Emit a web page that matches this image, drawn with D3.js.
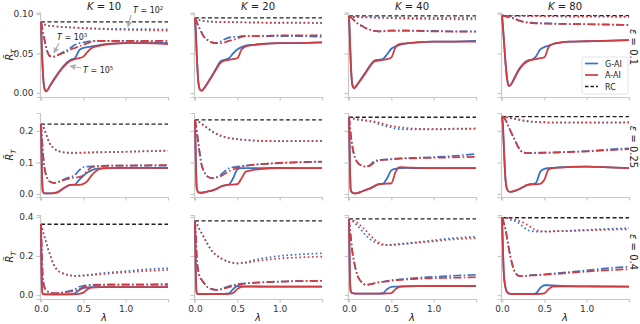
<!DOCTYPE html>
<html>
<head>
<meta charset="utf-8">
<script src="https://cdn.jsdelivr.net/npm/d3@7"></script>
<style>
body{margin:0;background:#fff;}
text{font-family:"DejaVu Sans",sans-serif;}
</style>
</head>
<body>
<svg id="chart" width="640" height="324"></svg>
<script>
// lambda grid shared by every curve
var lambdas = [0,0.01,0.02,0.04,0.06,0.08,0.1,0.15,0.2,0.25,0.3,0.35,0.4,0.45,0.5,0.55,0.6,0.7,0.8,1.0,1.2,1.5];
var ks = [10,20,40,80];
var epsilons = ["0.1","0.25","0.4"];
var rcValues = [[0.09,0.095,0.0975,0.098],[0.222,0.235,0.2435,0.2455],[0.3625,0.38,0.39,0.396]];
var yTicks = [[0,0.05,0.1],[0,0.1,0.2],[0,0.2,0.4]];
var xTicks = [0,0.5,1.0];

// g = G-AI, a = A-AI ; 2,3,5 = T=10^2,10^3,10^5
var e1K10 = {
  g2:[0.09,0.089,0.088,0.087,0.086,0.0855,0.085,0.0845,0.084,0.0836,0.0833,0.083,0.0828,0.0825,0.0822,0.082,0.0818,0.0815,0.0812,0.081,0.0808,0.0805],
  a2:[0.09,0.089,0.088,0.087,0.086,0.0855,0.085,0.0845,0.084,0.0835,0.0832,0.083,0.0826,0.0823,0.082,0.0817,0.0815,0.081,0.0805,0.08,0.0795,0.079],
  g3:[0.09,0.085,0.079,0.068,0.058,0.051,0.047,0.046,0.048,0.051,0.054,0.057,0.061,0.063,0.064,0.065,0.066,0.066,0.066,0.066,0.065,0.064],
  a3:[0.09,0.085,0.079,0.068,0.058,0.051,0.047,0.046,0.048,0.05,0.052,0.055,0.057,0.059,0.061,0.063,0.065,0.066,0.066,0.066,0.066,0.066],
  g5:[0.09,0.055,0.03,0.006,0.002,0.004,0.008,0.017,0.025,0.032,0.038,0.042,0.044,0.054,0.057,0.058,0.059,0.061,0.062,0.063,0.063,0.063],
  a5:[0.09,0.055,0.03,0.006,0.002,0.004,0.008,0.016,0.024,0.031,0.037,0.041,0.043,0.044,0.046,0.052,0.057,0.06,0.062,0.063,0.063,0.062]
};
var e1K20 = {
  g2:[0.095,0.0945,0.094,0.093,0.092,0.0915,0.091,0.0905,0.0903,0.09,0.09,0.09,0.0898,0.0897,0.0896,0.0895,0.0894,0.0893,0.0892,0.089,0.089,0.0888],
  a2:[0.095,0.0945,0.094,0.093,0.092,0.0915,0.091,0.0905,0.0902,0.09,0.0898,0.0897,0.0896,0.0895,0.0894,0.0893,0.0892,0.089,0.0889,0.0887,0.0886,0.0885],
  g3:[0.095,0.093,0.09,0.085,0.08,0.076,0.072,0.067,0.064,0.063,0.065,0.068,0.07,0.071,0.071,0.072,0.072,0.072,0.072,0.072,0.072,0.071],
  a3:[0.095,0.093,0.09,0.085,0.08,0.076,0.072,0.067,0.064,0.063,0.063,0.064,0.066,0.067,0.069,0.071,0.072,0.072,0.072,0.073,0.073,0.073],
  g5:[0.095,0.075,0.05,0.013,0.004,0.003,0.005,0.013,0.022,0.031,0.04,0.042,0.044,0.05,0.055,0.058,0.06,0.061,0.062,0.063,0.063,0.064],
  a5:[0.095,0.075,0.05,0.013,0.004,0.003,0.005,0.013,0.021,0.03,0.038,0.041,0.042,0.043,0.044,0.055,0.059,0.061,0.062,0.063,0.063,0.064]
};
var e1K40 = {
  g2:[0.0975,0.097,0.0968,0.0965,0.0963,0.0962,0.096,0.096,0.096,0.096,0.0958,0.0957,0.0956,0.0955,0.0955,0.0954,0.0953,0.0952,0.0951,0.095,0.095,0.095],
  a2:[0.0975,0.097,0.0968,0.0965,0.0963,0.0962,0.096,0.0958,0.0956,0.0955,0.0953,0.0951,0.095,0.0948,0.0946,0.0945,0.0943,0.094,0.0938,0.0935,0.0933,0.093],
  g3:[0.0975,0.097,0.096,0.094,0.092,0.09,0.088,0.085,0.082,0.08,0.0785,0.078,0.0785,0.079,0.079,0.079,0.079,0.079,0.0788,0.0785,0.078,0.078],
  a3:[0.0975,0.097,0.096,0.094,0.092,0.09,0.088,0.085,0.082,0.08,0.0785,0.078,0.078,0.0785,0.079,0.079,0.079,0.0788,0.0785,0.078,0.0778,0.0775],
  g5:[0.0975,0.07,0.04,0.01,0.006,0.008,0.011,0.019,0.027,0.035,0.041,0.042,0.043,0.049,0.056,0.059,0.061,0.063,0.064,0.065,0.065,0.066],
  a5:[0.0975,0.07,0.04,0.01,0.006,0.008,0.011,0.018,0.026,0.034,0.04,0.041,0.042,0.043,0.045,0.058,0.062,0.063,0.064,0.065,0.065,0.065]
};
var e1K80 = {
  g2:[0.098,0.098,0.0978,0.0977,0.0976,0.0975,0.0975,0.0975,0.0975,0.0974,0.0974,0.0974,0.0973,0.0973,0.0972,0.0972,0.0971,0.097,0.097,0.097,0.0968,0.0967],
  a2:[0.098,0.098,0.0978,0.0977,0.0976,0.0975,0.0974,0.0974,0.0973,0.0973,0.0972,0.0972,0.0971,0.0971,0.097,0.097,0.0969,0.0968,0.0967,0.0966,0.0965,0.0964],
  g3:[0.098,0.0978,0.0975,0.097,0.0965,0.096,0.0955,0.094,0.092,0.0905,0.0895,0.089,0.0885,0.088,0.088,0.088,0.0878,0.0875,0.0873,0.087,0.0868,0.0862],
  a3:[0.098,0.0978,0.0975,0.097,0.0965,0.096,0.0955,0.094,0.0915,0.09,0.089,0.0885,0.088,0.088,0.0878,0.0878,0.0876,0.0874,0.0872,0.087,0.0866,0.086],
  g5:[0.098,0.085,0.07,0.04,0.018,0.009,0.01,0.02,0.03,0.037,0.041,0.042,0.046,0.055,0.058,0.06,0.062,0.064,0.065,0.0655,0.066,0.067],
  a5:[0.098,0.085,0.07,0.04,0.018,0.009,0.01,0.019,0.029,0.036,0.04,0.042,0.043,0.044,0.045,0.058,0.062,0.064,0.065,0.0655,0.066,0.067]
};
var e2K10 = {
  g2:[0.222,0.22,0.216,0.205,0.19,0.175,0.162,0.145,0.137,0.133,0.132,0.131,0.131,0.131,0.131,0.132,0.132,0.133,0.133,0.134,0.136,0.138],
  a2:[0.222,0.22,0.216,0.205,0.19,0.175,0.162,0.145,0.137,0.133,0.131,0.13,0.13,0.13,0.131,0.131,0.132,0.132,0.133,0.134,0.135,0.137],
  g3:[0.222,0.18,0.14,0.085,0.06,0.047,0.04,0.035,0.038,0.044,0.05,0.054,0.06,0.075,0.085,0.087,0.088,0.089,0.09,0.09,0.09,0.09],
  a3:[0.222,0.18,0.14,0.085,0.06,0.047,0.04,0.035,0.037,0.042,0.047,0.05,0.052,0.054,0.06,0.075,0.085,0.088,0.09,0.09,0.091,0.092],
  g5:[0.222,0.08,0.01,0.002,0.002,0.002,0.002,0.003,0.006,0.015,0.024,0.029,0.03,0.045,0.058,0.068,0.076,0.081,0.082,0.083,0.083,0.082],
  a5:[0.222,0.08,0.01,0.002,0.002,0.002,0.002,0.003,0.006,0.015,0.024,0.029,0.029,0.029,0.032,0.042,0.06,0.08,0.082,0.083,0.083,0.083]
};
var e2K20 = {
  g2:[0.235,0.234,0.233,0.23,0.226,0.222,0.218,0.208,0.198,0.19,0.184,0.18,0.177,0.175,0.174,0.172,0.171,0.169,0.168,0.168,0.168,0.169],
  a2:[0.235,0.234,0.233,0.23,0.227,0.223,0.219,0.209,0.2,0.192,0.186,0.181,0.178,0.176,0.174,0.173,0.172,0.17,0.169,0.168,0.168,0.168],
  g3:[0.235,0.22,0.2,0.16,0.12,0.09,0.075,0.055,0.05,0.053,0.06,0.072,0.082,0.085,0.087,0.089,0.09,0.093,0.095,0.098,0.1,0.102],
  a3:[0.235,0.22,0.2,0.16,0.12,0.09,0.075,0.055,0.05,0.052,0.056,0.064,0.072,0.078,0.083,0.087,0.089,0.093,0.095,0.099,0.101,0.103],
  g5:[0.235,0.1,0.02,0.005,0.004,0.004,0.005,0.008,0.011,0.016,0.023,0.027,0.03,0.05,0.078,0.082,0.082,0.082,0.082,0.083,0.082,0.082],
  a5:[0.235,0.1,0.02,0.005,0.004,0.004,0.005,0.008,0.011,0.016,0.023,0.027,0.029,0.03,0.031,0.05,0.071,0.077,0.08,0.082,0.082,0.082]
};
var e2K40 = {
  g2:[0.2435,0.243,0.242,0.24,0.238,0.237,0.236,0.234,0.232,0.23,0.227,0.222,0.218,0.214,0.211,0.208,0.206,0.205,0.205,0.205,0.206,0.207],
  a2:[0.2435,0.243,0.242,0.24,0.239,0.238,0.237,0.236,0.234,0.232,0.23,0.227,0.223,0.219,0.216,0.214,0.212,0.209,0.207,0.206,0.207,0.208],
  g3:[0.2435,0.22,0.19,0.15,0.124,0.11,0.1,0.09,0.087,0.092,0.105,0.108,0.109,0.11,0.111,0.112,0.113,0.114,0.115,0.117,0.12,0.127],
  a3:[0.2435,0.22,0.19,0.15,0.124,0.11,0.1,0.09,0.087,0.09,0.1,0.106,0.108,0.109,0.11,0.111,0.112,0.113,0.114,0.115,0.116,0.118],
  g5:[0.2435,0.1,0.013,0.004,0.002,0.002,0.003,0.008,0.013,0.018,0.025,0.031,0.033,0.05,0.075,0.08,0.082,0.083,0.082,0.082,0.082,0.082],
  a5:[0.2435,0.1,0.013,0.004,0.002,0.002,0.003,0.008,0.013,0.018,0.025,0.031,0.032,0.033,0.034,0.07,0.085,0.084,0.083,0.082,0.082,0.082]
};
var e2K80 = {
  g2:[0.2455,0.2455,0.245,0.244,0.243,0.242,0.241,0.238,0.235,0.232,0.23,0.229,0.228,0.227,0.227,0.226,0.226,0.226,0.226,0.226,0.226,0.226],
  a2:[0.2455,0.2455,0.245,0.244,0.243,0.242,0.241,0.239,0.237,0.234,0.232,0.23,0.229,0.228,0.228,0.227,0.227,0.227,0.227,0.227,0.227,0.228],
  g3:[0.2455,0.245,0.243,0.235,0.225,0.212,0.2,0.172,0.145,0.132,0.13,0.13,0.131,0.131,0.131,0.131,0.132,0.133,0.134,0.136,0.14,0.145],
  a3:[0.2455,0.245,0.243,0.235,0.225,0.212,0.2,0.172,0.145,0.132,0.13,0.13,0.13,0.13,0.131,0.131,0.131,0.132,0.133,0.135,0.138,0.142],
  g5:[0.2455,0.22,0.16,0.05,0.015,0.008,0.007,0.01,0.015,0.022,0.029,0.031,0.035,0.07,0.08,0.082,0.083,0.085,0.086,0.087,0.085,0.082],
  a5:[0.2455,0.22,0.16,0.05,0.015,0.008,0.007,0.01,0.015,0.022,0.029,0.031,0.031,0.032,0.045,0.078,0.082,0.084,0.086,0.087,0.085,0.082]
};
var e3K10 = {
  g2:[0.3625,0.35,0.33,0.3,0.27,0.24,0.215,0.155,0.125,0.112,0.105,0.1,0.098,0.099,0.101,0.103,0.105,0.111,0.115,0.122,0.13,0.137],
  a2:[0.3625,0.35,0.33,0.3,0.27,0.24,0.215,0.155,0.125,0.112,0.105,0.1,0.098,0.098,0.099,0.1,0.102,0.106,0.11,0.116,0.122,0.128],
  g3:[0.3625,0.2,0.1,0.04,0.026,0.018,0.014,0.009,0.01,0.013,0.017,0.022,0.03,0.042,0.047,0.05,0.052,0.053,0.054,0.055,0.055,0.056],
  a3:[0.3625,0.2,0.1,0.04,0.026,0.018,0.014,0.009,0.01,0.012,0.015,0.018,0.022,0.03,0.04,0.047,0.05,0.052,0.052,0.052,0.052,0.052],
  g5:[0.3625,0.05,0.006,0.003,0.003,0.003,0.003,0.003,0.003,0.003,0.003,0.004,0.008,0.025,0.035,0.038,0.04,0.04,0.04,0.04,0.04,0.04],
  a5:[0.3625,0.05,0.006,0.003,0.003,0.003,0.003,0.003,0.003,0.003,0.003,0.003,0.004,0.006,0.012,0.03,0.038,0.04,0.04,0.04,0.04,0.04]
};
var e3K20 = {
  g2:[0.38,0.375,0.365,0.35,0.33,0.316,0.3,0.26,0.225,0.205,0.19,0.178,0.17,0.165,0.162,0.165,0.168,0.18,0.188,0.2,0.207,0.214],
  a2:[0.38,0.375,0.365,0.35,0.33,0.316,0.3,0.26,0.225,0.205,0.19,0.178,0.17,0.165,0.162,0.163,0.165,0.172,0.178,0.187,0.192,0.197],
  g3:[0.38,0.3,0.2,0.12,0.09,0.077,0.065,0.04,0.03,0.026,0.03,0.038,0.045,0.051,0.055,0.058,0.06,0.063,0.066,0.069,0.071,0.073],
  a3:[0.38,0.3,0.2,0.12,0.09,0.077,0.065,0.04,0.03,0.026,0.028,0.034,0.04,0.046,0.052,0.056,0.059,0.062,0.065,0.068,0.071,0.073],
  g5:[0.38,0.1,0.01,0.005,0.005,0.005,0.005,0.005,0.005,0.005,0.005,0.006,0.008,0.03,0.046,0.045,0.044,0.044,0.043,0.043,0.043,0.043],
  a5:[0.38,0.1,0.01,0.005,0.005,0.005,0.005,0.005,0.005,0.005,0.005,0.005,0.006,0.01,0.03,0.042,0.043,0.043,0.043,0.043,0.043,0.043]
};
var e3K40 = {
  g2:[0.39,0.39,0.388,0.38,0.372,0.365,0.355,0.33,0.305,0.285,0.272,0.262,0.257,0.256,0.258,0.26,0.262,0.266,0.27,0.28,0.29,0.299],
  a2:[0.39,0.39,0.389,0.385,0.38,0.375,0.37,0.35,0.33,0.305,0.285,0.27,0.26,0.256,0.256,0.257,0.259,0.263,0.268,0.275,0.284,0.291],
  g3:[0.39,0.34,0.3,0.22,0.17,0.13,0.1,0.065,0.052,0.055,0.06,0.065,0.068,0.072,0.076,0.078,0.08,0.084,0.088,0.093,0.098,0.103],
  a3:[0.39,0.34,0.3,0.22,0.17,0.13,0.1,0.065,0.052,0.055,0.06,0.065,0.068,0.07,0.073,0.075,0.077,0.08,0.083,0.086,0.088,0.091],
  g5:[0.39,0.1,0.02,0.009,0.008,0.007,0.007,0.007,0.007,0.007,0.007,0.007,0.009,0.03,0.042,0.043,0.044,0.045,0.045,0.046,0.046,0.046],
  a5:[0.39,0.1,0.02,0.009,0.008,0.007,0.007,0.007,0.007,0.007,0.007,0.007,0.007,0.008,0.01,0.03,0.042,0.044,0.045,0.045,0.046,0.046]
};
var e3K80 = {
  g2:[0.396,0.396,0.396,0.395,0.393,0.39,0.386,0.38,0.368,0.35,0.333,0.327,0.325,0.325,0.326,0.326,0.327,0.328,0.33,0.334,0.338,0.342],
  a2:[0.396,0.396,0.396,0.396,0.395,0.394,0.393,0.388,0.38,0.372,0.36,0.345,0.333,0.328,0.325,0.325,0.326,0.327,0.328,0.331,0.334,0.337],
  g3:[0.396,0.39,0.37,0.34,0.29,0.24,0.195,0.12,0.098,0.097,0.1,0.102,0.103,0.104,0.106,0.108,0.11,0.114,0.118,0.126,0.135,0.145],
  a3:[0.396,0.39,0.37,0.34,0.29,0.24,0.195,0.12,0.098,0.097,0.099,0.1,0.101,0.102,0.104,0.105,0.107,0.11,0.114,0.12,0.126,0.132],
  g5:[0.396,0.25,0.12,0.04,0.015,0.008,0.006,0.005,0.005,0.005,0.005,0.005,0.008,0.035,0.05,0.05,0.049,0.047,0.045,0.044,0.044,0.043],
  a5:[0.396,0.25,0.12,0.04,0.015,0.008,0.006,0.005,0.005,0.005,0.005,0.005,0.005,0.006,0.008,0.03,0.043,0.044,0.044,0.044,0.043,0.043]
};
var panelData = [[e1K10,e1K20,e1K40,e1K80],[e2K10,e2K20,e2K40,e2K80],[e3K10,e3K20,e3K40,e3K80]];

var colLeft = [40,194,348,501],
    panelW = 128,
    rowTop = [12.7,113,215],
    rowBot = [97,197,299],
    yDomains = [[-0.00506,0.1016],[-0.0095,0.257],[-0.0205,0.41]],
    blue = "#3673c4",
    red = "#cf3c42",
    axisGrey = "#c8c8c8",
    textCol = "#333";

var styles = {
  "2": {dash: "1.6,2.6", width: 1.7, cap: "butt"},
  "3": {dash: "8,2.4,1.6,2.4", width: 1.7, cap: "butt"},
  "5": {dash: null, width: 1.8, cap: "butt"}
};

var svg = d3.select("#chart");

var defs = svg.append("defs");
defs.append("marker")
  .attr("id","arrow")
  .attr("viewBox","0 0 10 10")
  .attr("refX",9).attr("refY",5)
  .attr("markerWidth",5).attr("markerHeight",5)
  .attr("orient","auto")
  .append("path").attr("d","M0,0L10,5L0,10z").attr("fill","#b0b0b0");

function drawPanel(r, c) {
  var x = d3.scaleLinear().domain([-0.012,1.5]).range([colLeft[c], colLeft[c]+panelW]);
  var y = d3.scaleLinear().domain(yDomains[r]).range([rowBot[r], rowTop[r]]);
  var g = svg.append("g");

  // axes
  var xa = d3.axisBottom(x).tickValues(xTicks).tickSize(3.5).tickPadding(3)
    .tickFormat(r == 2 ? d3.format(".1f") : function(){ return ""; });
  var gx = g.append("g").attr("transform","translate(0,"+rowBot[r]+")").call(xa);
  var ya = d3.axisLeft(y).tickValues(yTicks[r]).tickSize(3.5).tickPadding(3)
    .tickFormat(c == 0 ? d3.format(r == 0 ? ".2f" : ".1f") : function(){ return ""; });
  var gy = g.append("g").attr("transform","translate("+colLeft[c]+",0)").call(ya);
  [gx, gy].forEach(function(a){
    a.select(".domain").attr("stroke",axisGrey).attr("stroke-width",1.2);
    a.selectAll(".tick line").attr("stroke",axisGrey).attr("stroke-width",1.2);
    a.selectAll(".tick text").attr("fill",textCol).style("font-size","9px");
  });

  // RC reference
  g.append("line")
    .attr("x1", x(0)).attr("x2", x(1.5))
    .attr("y1", y(rcValues[r][c])).attr("y2", y(rcValues[r][c]))
    .attr("stroke","#222").attr("stroke-width",1.3).attr("stroke-dasharray","4,2.5");

  var d = panelData[r][c];
  ["g","a"].forEach(function(who){
    ["2","3","5"].forEach(function(t){
      var vals = d[who+t];
      var st = styles[t];
      var line = d3.line()
        .x(function(v,i){ return x(lambdas[i]); })
        .y(function(v){ return y(v); })
        .curve(d3.curveMonotoneX);
      g.append("path")
        .datum(vals)
        .attr("d", line)
        .attr("fill","none")
        .attr("stroke", who == "g" ? blue : red)
        .attr("stroke-width", st.width)
        .attr("stroke-linecap", st.cap)
        .attr("stroke-dasharray", st.dash);
    });
  });

  // column titles
  if (r == 0) {
    var tt = svg.append("text")
      .attr("x", colLeft[c] + panelW/2).attr("y", 9.5)
      .attr("text-anchor","middle").attr("fill","#222").style("font-size","10px");
    tt.append("tspan").attr("font-style","italic").text("K");
    tt.append("tspan").text(" = " + ks[c]);
  }
  // y label
  if (c == 0) {
    var mid = (rowTop[r] + rowBot[r]) / 2;
    var yl = svg.append("text")
      .attr("transform","translate(13,"+mid+") rotate(-90)")
      .attr("text-anchor","middle").attr("fill","#222").style("font-size","10px");
    yl.append("tspan").attr("font-style","italic").text("R\u0303");
    yl.append("tspan").attr("font-style","italic").attr("dy",3).style("font-size","7px").text("T");
  }
  // epsilon labels at right
  if (c == 3) {
    var ym = [47, 147, 252][r];
    var el = svg.append("text")
      .attr("transform","translate(630,"+ym+") rotate(90)")
      .attr("text-anchor","middle").attr("fill","#222").style("font-size","10px");
    el.append("tspan").attr("font-style","italic").text("\u03b5");
    el.append("tspan").text(" = " + epsilons[r]);
  }
  // x label
  if (r == 2) {
    svg.append("text")
      .attr("x", colLeft[c] + panelW/2).attr("y", 321)
      .attr("text-anchor","middle").attr("fill","#222")
      .attr("font-style","italic").style("font-size","10px").text("\u03bb");
  }
}

for (var r = 0; r < 3; r++) {
  for (var c = 0; c < 4; c++) drawPanel(r, c);
}

// annotations in first panel
var notes = [
  {tx:133, ty:13, exp:"2", x1:131, y1:15, x2:128, y2:27},
  {tx:57, ty:40, exp:"3", x1:59, y1:43, x2:54, y2:53},
  {tx:83, ty:73, exp:"5", x1:81, y1:68, x2:70, y2:66}
];
var supers = {"2":"2","3":"3","5":"5"};
notes.forEach(function(n){
  svg.append("line")
    .attr("x1",n.x1).attr("y1",n.y1).attr("x2",n.x2).attr("y2",n.y2)
    .attr("stroke","#b0b0b0").attr("stroke-width",1.2).attr("marker-end","url(#arrow)");
  var t = svg.append("text").attr("x",n.tx).attr("y",n.ty).attr("fill","#222").style("font-size","8px");
  t.append("tspan").attr("font-style","italic").text("T");
  t.append("tspan").text(" = 10");
  t.append("tspan").attr("dy",-3).style("font-size","5.5px").text(supers[n.exp]);
});

// legend in top-right panel
var lg = svg.append("g").attr("transform","translate(582,57)");
lg.append("rect").attr("width",46).attr("height",37).attr("rx",2)
  .attr("fill","#fff").attr("fill-opacity",0.85).attr("stroke","#ddd").attr("stroke-width",0.8);
var legendItems = [
  {label:"G-AI", color:blue, dash:null},
  {label:"A-AI", color:red, dash:null},
  {label:"RC", color:"#222", dash:"3.5,2"}
];
legendItems.forEach(function(it, i){
  var yy = 6.5 + i*11.5;
  lg.append("line").attr("x1",3).attr("x2",16).attr("y1",yy).attr("y2",yy)
    .attr("stroke",it.color).attr("stroke-width",1.7).attr("stroke-dasharray",it.dash);
  lg.append("text").attr("x",23).attr("y",yy+3).attr("fill","#222")
    .style("font-size","8px").text(it.label);
});
</script>
</body>
</html>
